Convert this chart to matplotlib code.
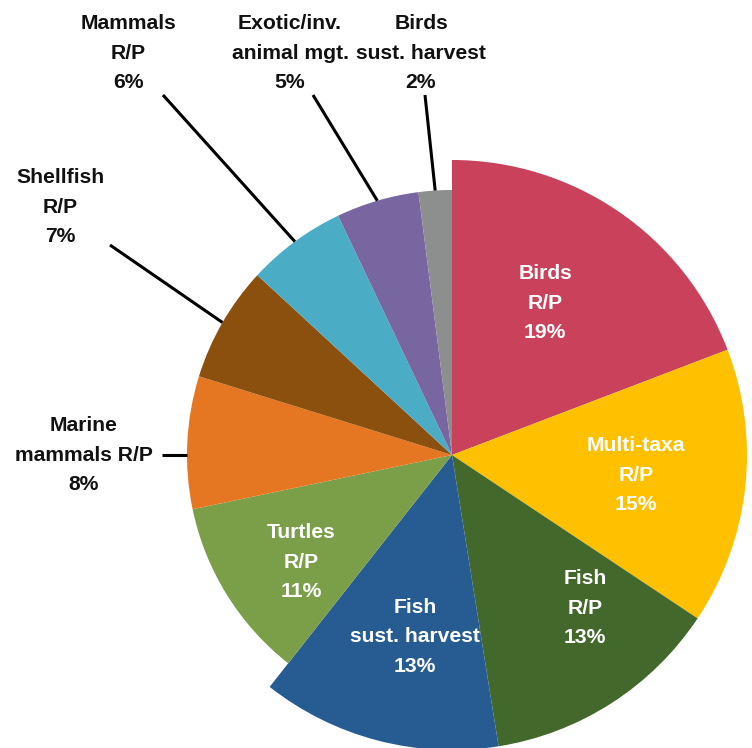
import numpy as np
import matplotlib.pyplot as plt

# categories and shares (%), clockwise from 12 o'clock
labels = ['Birds\nR/P', 'Multi-taxa\nR/P', 'Fish\nR/P', 'Fish\nsust. harvest',
          'Turtles\nR/P', 'Marine\nmammals R/P', 'Shellfish\nR/P', 'Mammals\nR/P',
          'Exotic/inv.\nanimal mgt.', 'Birds\nsust. harvest']
values = [19, 15, 13, 13, 11, 8, 7, 6, 5, 2]
colors = ['#C9415A', '#FFC000', '#43682B', '#275C92', '#7B9F48',
          '#E67722', '#8B500D', '#4BACC6', '#7766A0', '#8C8F8E']
# first four wedges are drawn larger in the original
big = [True, True, True, True, False, False, False, False, False, False]

W, H = 752, 748
fig = plt.figure(figsize=(W / 100, H / 100), dpi=100)
ax = fig.add_axes([0, 0, 1, 1])

cx, cy = 452, H - 455
r_small, r_big = 265, 295

wedges, _ = ax.pie(values, colors=colors, startangle=90, counterclock=False,
                   center=(cx, cy), radius=r_small, frame=True,
                   wedgeprops=dict(linewidth=0))
for w, b in zip(wedges, big):
    if b:
        w.set_radius(r_big)
ax.set_xlim(0, W)
ax.set_ylim(0, H)
ax.set_aspect('equal')
ax.axis('off')

font = dict(family=['Liberation Sans', 'DejaVu Sans'], fontsize=15.2,
            fontweight='bold', ha='center', va='center', linespacing=1.72)

# inside labels (white)
inside_pos = {0: (545, 303), 1: (636, 475), 2: (585, 608), 3: (415, 637), 4: (301, 562)}
for i, (x, y) in inside_pos.items():
    ax.text(x, H - y, f'{labels[i]}\n{values[i]}%', color='white', **font)

# outside labels (black) with leader lines
outside = {5: ((84, 455), (162, 455)),
           6: ((60, 207), (110, 245)),
           7: ((128, 53), (163, 95)),
           8: ((290, 53), (313, 95)),
           9: ((421, 53), (425, 95))}
for i, ((tx, ty), (lx, ly)) in outside.items():
    ax.text(tx, H - ty, f'{labels[i]}\n{values[i]}%', color='#111111', **font)
    w = wedges[i]
    ang = np.deg2rad((w.theta1 + w.theta2) / 2)
    if i == 5:
        ang = np.pi - np.arcsin((H - ly - cy) / r_small)
    ex = cx + r_small * np.cos(ang)
    ey = cy + r_small * np.sin(ang)
    ax.plot([lx, ex], [H - ly, ey], color='black', linewidth=2.2,
            solid_capstyle='butt')

fig.savefig('out.png', dpi=100)
